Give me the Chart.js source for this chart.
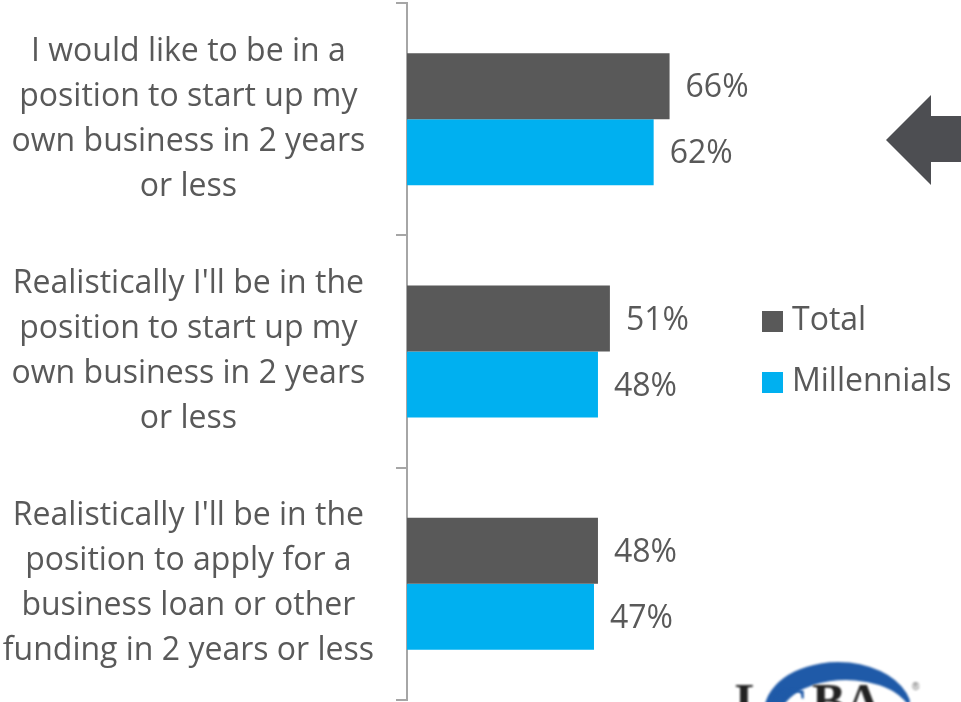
<!DOCTYPE html>
<html>
<head>
<meta charset="utf-8">
<script src="https://cdn.jsdelivr.net/npm/chart.js@4.4.1/dist/chart.umd.min.js"></script>
<style>
  html, body { margin: 0; padding: 0; background: #fff; }
  #wrap { width: 961px; height: 702px; position: relative; }
</style>
</head>
<body>
<div id="wrap"><canvas id="bars"></canvas></div>
<script>
const categories = [
    ['I would like to be in a', 'position to start up my', 'own business in 2 years', 'or less'],
    ["Realistically I'll be in the", 'position to start up my', 'own business in 2 years', 'or less'],
    ["Realistically I'll be in the", 'position to apply for a', 'business loan or other', 'funding in 2 years or less']
];
const totalValues = [66, 51, 48];
const millennialValues = [62, 48, 47];
const seriesNames = ['Total', 'Millennials'];

const TEXT = '#595959';
const FONT = '"Open Sans", "Noto Sans", sans-serif';
const SIZE = 32;

// percentage labels just past the end of each bar
const valueLabels = {
    id: 'valueLabels',
    afterDatasetsDraw(chart) {
        const ctx = chart.ctx;
        ctx.save();
        ctx.fillStyle = TEXT;
        ctx.font = SIZE + 'px ' + FONT;
        ctx.textAlign = 'left';
        ctx.textBaseline = 'middle';
        chart.data.datasets.forEach((ds, i) => {
            chart.getDatasetMeta(i).data.forEach((bar, j) => {
                ctx.fillText(ds.data[j] + '%', bar.x + 16, bar.y + 2);
            });
        });
        ctx.restore();
    }
};

// legend on the right, plus the arrow and logo
const sideArt = {
    id: 'sideArt',
    afterDraw(chart) {
        const ctx = chart.ctx;
        ctx.save();
        ctx.font = SIZE + 'px ' + FONT;
        ctx.textBaseline = 'middle';
        chart.data.datasets.forEach((ds, i) => {
            const y = 321 + i * 61;
            ctx.fillStyle = ds.backgroundColor;
            ctx.fillRect(762, y - 10, 21, 21);
            ctx.fillStyle = TEXT;
            ctx.fillText(ds.label, 792, y);
        });

        // arrow pointing back at the first row
        ctx.fillStyle = '#4d4e52';
        ctx.beginPath();
        ctx.moveTo(886, 140);
        ctx.lineTo(931, 95);
        ctx.lineTo(931, 116);
        ctx.lineTo(965, 116);
        ctx.lineTo(965, 162);
        ctx.lineTo(931, 162);
        ctx.lineTo(931, 185);
        ctx.closePath();
        ctx.fill();

        // logo, cut off at the bottom edge
        ctx.filter = 'blur(0.8px)';
        ctx.fillStyle = '#1f5aa8';
        ctx.beginPath();
        ctx.ellipse(838, 712, 74, 50, 0, Math.PI * 1.05, Math.PI * 1.92);
        ctx.ellipse(846, 718, 66, 38, 0, Math.PI * 1.92, Math.PI * 1.05, true);
        ctx.closePath();
        ctx.fill();
        ctx.fillStyle = '#222';
        ctx.font = 'bold 50px "Liberation Serif", serif';
        ctx.textBaseline = 'alphabetic';
        ctx.fillText('L', 735, 718);
        ctx.fillText('BA', 812, 718);
        ctx.fillStyle = '#1f5aa8';
        ctx.fillText('C', 772, 722);
        ctx.font = '10px sans-serif';
        ctx.fillStyle = '#555';
        ctx.fillText('®', 912, 690);
        ctx.restore();
    }
};

new Chart(document.getElementById('bars'), {
    type: 'bar',
    data: {
        labels: categories,
        datasets: [
            { label: seriesNames[0], data: totalValues, backgroundColor: '#595959' },
            { label: seriesNames[1], data: millennialValues, backgroundColor: '#00b0f0' }
        ]
    },
    options: {
        indexAxis: 'y',
        responsive: true,
        maintainAspectRatio: false,
        animation: false,
        layout: { padding: { top: 3, bottom: 2, right: 1, left: 0 } },
        datasets: { bar: { categoryPercentage: 0.568, barPercentage: 1 } },
        plugins: { legend: { display: false }, tooltip: { enabled: false } },
        scales: {
            x: { display: false, min: 0, max: 139 },
            y: {
                afterFit(scale) {
                    // tall wrapped labels must not push the plot inward
                    scale.width = 407;
                    scale.paddingTop = 0;
                    scale.paddingBottom = 0;
                },
                border: { color: '#a6a6a6', width: 2 },
                grid: { drawOnChartArea: false, tickLength: 11, tickColor: '#a6a6a6', lineWidth: 2, offset: true },
                ticks: {
                    color: TEXT,
                    crossAlign: 'center',
                    padding: 22,
                    font: { family: FONT, size: SIZE, lineHeight: '45px' }
                }
            }
        }
    },
    plugins: [valueLabels, sideArt]
});
</script>
</body>
</html>
